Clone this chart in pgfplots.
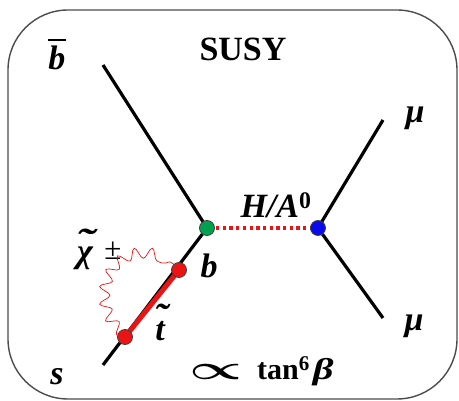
\documentclass[border=0pt]{standalone}
\usepackage{pgfplots}
\pgfplotsset{compat=1.18}
\usepackage{fontspec}
\setmainfont{Liberation Serif}
\usepackage{graphicx}
\usetikzlibrary{decorations.pathmorphing}
\definecolor{dgreen}{RGB}{0,160,80}
\definecolor{vred}{RGB}{235,20,20}
\definecolor{vblue}{RGB}{10,10,235}
\newcommand{\lab}{\fontsize{34}{40}\selectfont\bfseries\itshape}
\newcommand{\tld}[4]{\ooalign{\hfil\raisebox{#2}{\scalebox{#3}[1.1]{˜}}\kern#4\hfil\cr\hfil#1\hfil\cr}}
\begin{document}
\begin{tikzpicture}
\begin{axis}[hide axis, scale only axis, width=459pt, height=401pt,
  xmin=0, xmax=459, ymin=0, ymax=401, y dir=reverse, clip=false]
\coordinate (o1) at (axis cs:0,0);
\coordinate (o2) at (axis cs:459,401);
\coordinate (fa) at (axis cs:8,10);
\coordinate (fb) at (axis cs:457,399);
\coordinate (w1) at (axis cs:124,334);
\coordinate (c1) at (axis cs:85,300);
\coordinate (c2) at (axis cs:120,230);
\coordinate (w2) at (axis cs:175,265);
% fermion lines
\addplot[black, line width=3.2pt] coordinates {(103,65) (207,228)};
\addplot[black, line width=3.2pt] coordinates {(207,228) (103,365)};
\addplot[black, line width=3.2pt] coordinates {(318,228) (383,120)};
\addplot[black, line width=3.2pt] coordinates {(318,228) (383,318)};
% stop segment
\addplot[vred, line width=5pt] coordinates {(179,270) (125,337)};
% Higgs dotted
\addplot[vred, line width=3.2pt, dash pattern=on 3.3pt off 3.4pt] coordinates {(216,228) (310,228)};
% labels
\node[anchor=base, inner sep=0pt] at (axis cs:57,70) {\lab\ooalign{\hfil\raisebox{28.5pt}{\rule{17pt}{2.8pt}}\hfil\cr\hfil b\hfil\cr}};
\node at (axis cs:243,49) {\fontsize{34}{40}\selectfont\bfseries SUSY};
\node at (axis cs:415,118) {\lab μ};
\node at (axis cs:414,326) {\lab μ};
\node at (axis cs:276,205) {\lab H/A\textsuperscript{\upshape 0}};
\node at (axis cs:209,266) {\lab b};
\node[anchor=base, inner sep=0pt] at (axis cs:85,263) {\lab\tld{χ}{8pt}{1.6}{0pt}};
\node[anchor=base, inner sep=0pt] at (axis cs:113,260) {\fontsize{31}{34}\selectfont ±};
\node[anchor=base, inner sep=0pt] at (axis cs:160,341) {\lab\tld{t}{11pt}{1.2}{-2pt}};
\node at (axis cs:57,377) {\lab s};
\node at (axis cs:216,372) {\resizebox{53pt}{15pt}{\boldmath$\propto$}};
\node[anchor=base west, inner sep=0pt] at (axis cs:257,380) {\fontsize{30}{34}\selectfont\bfseries tan\textsuperscript{6}\hspace{3pt}\scalebox{1.35}[1]{\textit{β}}};
\end{axis}
\path (o1) rectangle (o2);
% frame
\draw[line width=1.4pt, black!70, rounded corners=60pt] (fa) rectangle (fb);
% chargino wavy
\draw[vred, line width=0.7pt, decorate, decoration={snake, segment length=16pt, amplitude=5.5pt}]
  (w1) .. controls (c1) and (c2) .. (w2);
\begin{axis}[hide axis, scale only axis, width=459pt, height=401pt,
  xmin=0, xmax=459, ymin=0, ymax=401, y dir=reverse, clip=false]
% vertices
\addplot[only marks, mark=*, mark size=7.5pt, mark options={fill=dgreen, draw=black!75, line width=0.8pt}] coordinates {(207,228)};
\addplot[only marks, mark=*, mark size=7.5pt, mark options={fill=vblue, draw=black!75, line width=0.8pt}] coordinates {(318,228)};
\addplot[only marks, mark=*, mark size=7.5pt, mark options={fill=vred, draw=black!75, line width=0.8pt}] coordinates {(179,270) (125,337)};
\end{axis}
\end{tikzpicture}
\end{document}
